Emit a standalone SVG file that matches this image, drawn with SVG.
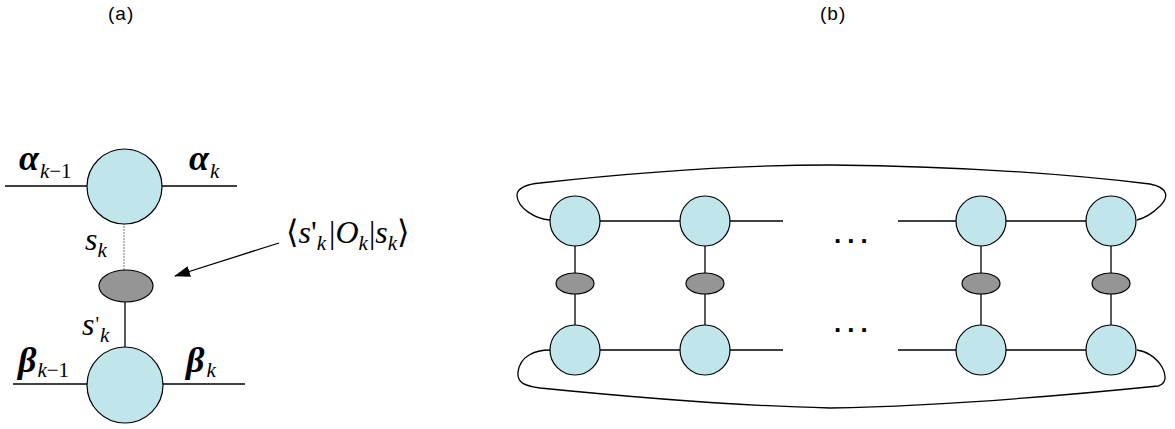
<svg xmlns="http://www.w3.org/2000/svg" width="1175" height="429" viewBox="0 0 1175 429">
<style>
.site{fill:#c0e5ea;stroke:#000;stroke-width:1.2}
.op{fill:#959595;stroke:#000;stroke-width:1.2}
.ln{stroke:#000;stroke-width:1.3;fill:none}
.cap{font-family:"Liberation Sans",Arial,sans-serif;font-size:19px;letter-spacing:1px;fill:#000}
.m{font-family:"Liberation Serif","DejaVu Serif",serif;font-style:italic;fill:#000}
.big{font-size:36px;font-weight:bold}
.sub{font-size:21px}
.up{font-style:normal}
.dots{font-family:"Liberation Sans",Arial,sans-serif;font-size:26px;font-weight:bold;letter-spacing:6px;fill:#000}
</style>
<defs>
<marker id="ah" markerWidth="16" markerHeight="11" refX="15" refY="5.5" orient="auto" markerUnits="userSpaceOnUse">
<path d="M0,0 L16,5.5 L0,11 Z" fill="#000"/>
</marker>
</defs>
<text class="cap" x="108" y="20">(a)</text>
<text class="cap" x="820" y="20">(b)</text>

<g id="connectors">
<line class="ln" x1="5" y1="186" x2="237" y2="186"/>
<line x1="124" y1="223" x2="124" y2="270" stroke="#777" stroke-width="1" stroke-dasharray="2,1"/>
<line class="ln" x1="125" y1="302" x2="125" y2="347"/>
<line class="ln" x1="13" y1="384" x2="245" y2="384"/>
<line class="ln" x1="279" y1="243" x2="175" y2="276" marker-end="url(#ah)"/>

<line class="ln" x1="600" y1="221" x2="783" y2="221"/>
<line class="ln" x1="898" y1="221" x2="1086" y2="221"/>
<line class="ln" x1="600" y1="350" x2="783" y2="350"/>
<line class="ln" x1="898" y1="350" x2="1086" y2="350"/>
<line class="ln" x1="575" y1="245" x2="575" y2="326"/>
<line class="ln" x1="705" y1="245" x2="705" y2="326"/>
<line class="ln" x1="981" y1="245" x2="981" y2="326"/>
<line class="ln" x1="1111" y1="245" x2="1111" y2="326"/>
<path class="ln" d="M550,220 C535,219 518,208 517,196 C516,188 528,184 540,183 C640,172 730,165 830,165 C940,166 1050,172 1150,184 C1170,188 1168,198 1160,206 C1153,213 1145,218 1137,220"/>
<path class="ln" d="M550,350 C535,350 520,356 518,372 C517,383 525,386 540,388 C640,398 740,406 830,408 C940,406 1060,396 1158,386 C1166,384 1167,376 1162,367 C1156,357 1146,351 1137,350"/>
</g>

<g id="a-top"><circle class="site" cx="124.5" cy="186.5" r="37.5"/></g>
<g id="a-op"><ellipse class="op" cx="126" cy="286" rx="27" ry="16"/></g>
<g id="a-bot"><circle class="site" cx="125" cy="385" r="38"/></g>

<g id="b-t1"><circle class="site" cx="575" cy="221" r="25"/></g>
<g id="b-t2"><circle class="site" cx="705" cy="221" r="25"/></g>
<g id="b-t3"><circle class="site" cx="981" cy="221" r="25"/></g>
<g id="b-t4"><circle class="site" cx="1111" cy="221" r="25"/></g>
<g id="b-o1"><ellipse class="op" cx="575" cy="283.5" rx="19" ry="10.5"/></g>
<g id="b-o2"><ellipse class="op" cx="705" cy="283.5" rx="19" ry="10.5"/></g>
<g id="b-o3"><ellipse class="op" cx="981" cy="283.5" rx="19" ry="10.5"/></g>
<g id="b-o4"><ellipse class="op" cx="1111" cy="283.5" rx="19" ry="10.5"/></g>
<g id="b-b1"><circle class="site" cx="575" cy="350" r="25"/></g>
<g id="b-b2"><circle class="site" cx="705" cy="350" r="25"/></g>
<g id="b-b3"><circle class="site" cx="981" cy="350" r="25"/></g>
<g id="b-b4"><circle class="site" cx="1111" cy="350" r="25"/></g>

<text class="dots" x="834" y="243">...</text>
<text class="dots" x="834" y="332">...</text>

<text class="m" x="19" y="170"><tspan class="big">α</tspan><tspan class="sub" dy="8" dx="1">k</tspan><tspan class="sub up">−1</tspan></text>
<text class="m" x="189" y="170"><tspan class="big">α</tspan><tspan class="sub" dy="8" dx="1">k</tspan></text>
<text class="m" x="85" y="250"><tspan font-size="32">s</tspan><tspan class="sub" dy="7">k</tspan></text>
<text class="m" x="82" y="335"><tspan font-size="32">s</tspan><tspan class="up" font-size="20" dy="-4" dx="1">'</tspan><tspan class="sub" dx="1" dy="11">k</tspan></text>
<text class="m" x="18" y="372"><tspan class="big">β</tspan><tspan class="sub" dy="5" dx="1">k</tspan><tspan class="sub up">−1</tspan></text>
<text class="m" x="186" y="372"><tspan class="big">β</tspan><tspan class="sub" dy="5" dx="2">k</tspan></text>
<text class="m" x="286" y="243" font-size="32"><tspan class="up">⟨</tspan><tspan>s</tspan><tspan class="up">'</tspan><tspan class="sub" dy="7">k</tspan><tspan class="up" dy="-7" dx="3">|</tspan><tspan>O</tspan><tspan class="sub" dy="7">k</tspan><tspan class="up" dy="-7" dx="1">|</tspan><tspan>s</tspan><tspan class="sub" dy="7">k</tspan><tspan class="up" dy="-7">⟩</tspan></text>
</svg>
